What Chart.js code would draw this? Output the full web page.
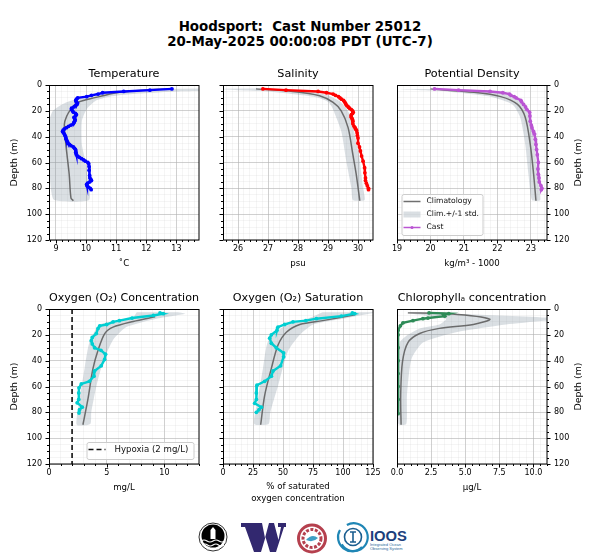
<!DOCTYPE html>
<html lang="en">
<head>
  <meta charset="UTF-8">
  <title>Hoodsport Cast</title>
  <script src="https://cdn.jsdelivr.net/npm/chart.js"></script>
  <style>
    html, body { margin: 0; padding: 0; background: #fff; width: 600px; height: 560px; overflow: hidden; }
    body { position: relative; font-family: "DejaVu Sans", sans-serif; color: #000; }
    canvas { position: absolute; }
    #mainTitle { position: absolute; left: 0; top: 19px; width: 600px; text-align: center; font-weight: bold; font-size: 13.4px; line-height: 15px; white-space: pre; }
    #logos { position: absolute; left: 190px; top: 515px; }
  </style>
</head>
<body>

<div id="mainTitle">Hoodsport:  Cast Number 25012
20-May-2025 00:00:08 PDT (UTC-7)</div>

<svg id="logos" width="225" height="45" viewBox="190 515 225 45">
  <circle cx="213" cy="537" r="14" fill="#fff" stroke="#333" stroke-width="1"/>
  <circle cx="213" cy="536" r="11.5" fill="#000"/>
  <path d="M210.5 539 v-9 l2.5 -3 l2.5 3 v9 z" fill="#fff"/>
  <path d="M201 541 q3 -2 6 0 t6 0 t6 0 t6 0 M202 545 q3 -2 5.5 0 t5.5 0 t5.5 0 t5.5 0" stroke="#fff" stroke-width="1.1" fill="none"/>
  <path d="M241 523 H262 L265 538 L269 523 H274 L278.5 540 L281 527 H278 V523 H286 V527 H284 L276 552 H270 L265.5 537 L261 552 H254 L245 527 H241 Z" fill="#32286f"/>
  <circle cx="312" cy="538.5" r="13.5" fill="#fff" stroke="#b5404e" stroke-width="3"/>
  <circle cx="312" cy="538.5" r="9" fill="none" stroke="#b5404e" stroke-width="3" stroke-dasharray="3 1.5"/>
  <path d="M306 540 q6 -7 12 -2 q-5 5 -12 2 z" fill="#3f9fc4"/>
  <path d="M344 527 a14 14 0 1 1 0 20" fill="none" stroke="#1f86b5" stroke-width="2.2" transform="rotate(15 353 537)"/>
  <path d="M362 547 a14 14 0 0 1 -22 -17" fill="none" stroke="#1f86b5" stroke-width="2.2"/>
  <circle cx="353" cy="537" r="8.5" fill="none" stroke="#1b5e8f" stroke-width="1.6"/>
  <path d="M353 532 v10 M350 532 h6 M350 542 h6" stroke="#1b5e8f" stroke-width="1.6" fill="none"/>
  <text x="370" y="541" font-family="Liberation Sans" font-weight="bold" font-size="14.5" textLength="37" lengthAdjust="spacingAndGlyphs" fill="#1c3f7c">IOOS</text>
  <text x="370" y="545.5" font-family="Liberation Sans" font-size="4" fill="#2b6a9a">Integrated Ocean</text>
  <text x="370" y="550" font-family="Liberation Sans" font-size="4" fill="#2b6a9a">Observing System</text>
</svg>

<script>
  const depthTicks = [0, 20, 40, 60, 80, 100, 120];

  // temperature
  const tempCastDepth = [3,4,5,6,7,8,9,10,11,12,13,14,15,16,17,18,19,20,21,22,23,24,25,26,27,28,29,30,31,32,33,34,35,36,37,38,39,40,41,42,43,44,45,46,47,48,49,50,51,52,53,54,55,56,57,58,59,60,61,63,66,70,72,73,74,75,76,77,78,79,80,81];
  const tempCast = [12.85,12.12,11.25,10.55,10.4,10.18,10.02,9.72,9.68,9.66,9.67,9.72,9.7,9.65,9.6,9.52,9.52,9.55,9.58,9.65,9.68,9.65,9.6,9.62,9.64,9.62,9.6,9.58,9.5,9.42,9.35,9.28,9.24,9.22,9.25,9.28,9.3,9.32,9.33,9.34,9.36,9.38,9.4,9.45,9.5,9.58,9.62,9.65,9.66,9.66,9.67,9.68,9.72,9.78,9.85,9.92,9.98,10.06,10.09,10.1,10.1,10.12,10.13,10.16,10.18,10.12,10.05,10.02,10.03,10.08,10.14,10.17];
  const tempClimDepth = [3,3.6,5.7,9,9.6,13.5,18.7,24,30.4,46,69,87.5,89.6];
  const tempClim = [12.9,12.1,11.1,10.44,10.33,9.72,9.5,9.36,9.28,9.33,9.44,9.5,9.58];
  const tempLowDepth = [3,4,5,7,9.6,13.5,20,28,59,80,89];
  const tempLow = [12.4,11.3,10.8,10.3,9.9,9.33,8.9,8.78,8.78,8.83,8.94];
  const tempHighDepth = [2.5,4,5,7,9,12,18.7,28,46,59,72,89];
  const tempHigh = [15,15,13,11.55,10.77,10.33,10.02,9.86,9.86,9.98,10.05,10.1];
  const tempTicks = [9, 10, 11, 12, 13];

  // salinity
  const salCastDepth = [3,4,5,6,7,8,9,10,11,12,13,14,15,16,17,18,19,20,21,22,23,24,25,26,27,28,30,32,33,34,35,37,39,41,45,48,51,55,59,64,68,72,74,76,78,80,81];
  const salCast = [26.83,27.6,28.67,28.95,29.17,29.25,29.35,29.4,29.45,29.52,29.55,29.58,29.6,29.63,29.68,29.72,29.78,29.82,29.84,29.82,29.78,29.77,29.78,29.8,29.82,29.83,29.83,29.87,29.9,29.92,29.95,29.97,29.98,30,30,30.05,30.08,30.12,30.17,30.22,30.23,30.25,30.25,30.28,30.31,30.35,30.35];
  const salClimDepth = [3,5,8.3,13.5,20,33,54,69,89.6];
  const salClim = [26.6,27.83,28.72,29.17,29.44,29.67,29.83,29.94,30.06];
  const salLowDepth = [3,4,5,8,10,13,17.4,35.6,59,80,89];
  const salLow = [25,26,27,28.2,28.7,29,29.14,29.44,29.61,29.78,29.83];
  const salHighDepth = [2.5,4,5,8,13.5,22.6,38,59,80,89];
  const salHigh = [27,27.5,28.4,29,29.44,29.72,29.89,30.06,30.17,30.22];
  const salTicks = [26, 27, 28, 29, 30];

  // potential density
  const rhoCastDepth = [3,4,5,6,7,8,9,10,12,13,15,17,19,21,24,28,31,33,36,38,42,46,50,54,60,65,69,72,75,78,80,81];
  const rhoCast = [20.12,20.84,21.78,22.16,22.36,22.4,22.5,22.56,22.7,22.72,22.78,22.84,22.88,22.96,22.97,22.98,23.01,23.03,23.08,23.11,23.13,23.15,23.17,23.19,23.22,23.21,23.22,23.24,23.25,23.3,23.33,23.31];
  const rhoClimDepth = [3,5.7,9,15,25,46,69,89.6];
  const rhoClim = [20,21.3,22.1,22.6,22.83,22.98,23.08,23.15];
  const rhoLowDepth = [3,4,5,9,15,25,46,70,89];
  const rhoLow = [19,19.8,20.5,21.8,22.45,22.68,22.83,22.93,23.03];
  const rhoHighDepth = [3,5,9,15,25,46,70,89];
  const rhoHigh = [20.8,22,22.45,22.75,22.96,23.1,23.2,23.28];
  const rhoTicks = [19, 20, 21, 22, 23];

  // oxygen concentration
  const oxyCastDepth = [3,3.6,5,7,9,10,12,13,15,19,22,24.5,27,30,32,35,39,44,48,52,56,58,61,65,70,72.6,76,78,80.5];
  const oxyCast = [9.62,9.9,9.05,7.2,6.1,5.55,5,4.4,4.25,4.1,3.75,3.66,3.75,3.95,4.5,4.9,4.82,4.53,3.95,3.9,3.5,2.8,2.6,2.58,2.58,2.44,2.88,2.65,2.6];
  const oxyClimDepth = [6,9.6,14,19,32,46.6,70,89.6];
  const oxyClim = [9.2,7.3,5.55,4.83,4.25,3.8,3.37,2.94];
  const oxyLowDepth = [2.5,7.5,12,26,46,70,89.6];
  const oxyLow = [7.6,7.2,4.4,3.5,3.08,2.65,2.41];
  const oxyHighDepth = [2.5,3.6,7.5,14,24,41,60,80,89];
  const oxyHigh = [11.2,11.8,9.3,6.7,5.55,4.68,4.1,3.66,3.58];
  const oxyTicks = [0, 5, 10];
  const hypoxiaLevel = [2, 2];
  const hypoxiaDepth = [0, 120];

  // oxygen saturation
  const satCastDepth = [3,3.6,5.5,7.5,9,10,12,14,16.5,20,22.6,26.5,30,34,37,44,48,52,56,59,65,70,73,76,78,80];
  const satCast = [107.8,109.7,98.6,77.8,69,58.3,51.4,45.8,45,40.3,38.9,40.3,44.4,50.5,50.5,48,41.7,40.3,34.7,28.3,27.8,27.8,26.4,32,30,27.8];
  const satClimDepth = [4.5,9,12,18,28,46,67,89.6];
  const satClim = [110,83,64,52.8,45.8,40.3,34.7,31.4];
  const satLowDepth = [2.5,7,14,25,46,70,89];
  const satLow = [83,72,50,37.5,33.3,29,26];
  const satHighDepth = [2.5,3,7.5,12,20,33,59,80,89];
  const satHigh = [130,125,100,75,64,54,46,39.4,38];
  const satTicks = [0, 25, 50, 75, 100, 125];

  // chlorophyll
  const chlCastDepth = [3,3.6,4.5,5.5,7,7.5,9,10.7,13,16.5,20,30,40,50,60,70,81];
  const chlCast = [2.35,3.8,3.4,3.5,2.27,1.9,1.17,0.44,0.25,0.08,0.08,0.08,0.08,0.08,0.08,0.08,0.08];
  const chlClimDepth = [3,3.6,7.8,12,15,19,26,41,67,89.6];
  const chlClim = [0.8,3.85,6.8,5.6,3.1,1.66,0.8,0.4,0.27,0.3];
  const chlLowDepth = [3,7.5,12,15,20,26,46,89];
  const chlLow = [0.7,3.6,3.1,1.66,0.8,0.2,0.1,0.1];
  const chlHighDepth = [2.5,3.6,7.5,12,18,26,39,67,89];
  const chlHigh = [1,4.4,12,8,4.35,1.9,1.05,0.73,0.68];
  const chlTicks = [0, 2.5, 5, 7.5, 10];

  const FONT = '"DejaVu Sans"';
  const GREY = 'rgba(95,95,95,0.9)';
  const BAND = 'rgba(119,136,153,0.27)';
  const MAJOR_GRID = 'rgba(176,176,176,0.6)';
  const MINOR_GRID = 'rgba(200,200,200,0.18)';
  const pts = (xs, ys) => xs.map((x, i) => ({ x: x, y: ys[i] }));

  function bandShape(low, lowDepth, high, highDepth) {
    return pts(low, lowDepth).concat(pts(high, highDepth).reverse());
  }

  // ticks, frame, depth label and legend box, matplotlib style
  const framePlugin = {
    id: 'frame',
    afterDraw(chart) {
      const o = chart.options.plugins.frame;
      const a = chart.chartArea, c = chart.ctx;
      const xs = chart.scales.x, ys = chart.scales.y;
      c.save();
      c.strokeStyle = '#000';
      c.lineWidth = 1;
      c.beginPath();
      xs.ticks.forEach(t => {
        const px = Math.round(xs.getPixelForValue(t.value)) + 0.5;
        c.moveTo(px, a.bottom);
        c.lineTo(px, a.bottom + (t.major ? 3.5 : 2));
      });
      ys.ticks.forEach(t => {
        const py = Math.round(ys.getPixelForValue(t.value)) + 0.5;
        const len = t.major ? 3.5 : 2;
        if (o.side === 'right') { c.moveTo(a.right, py); c.lineTo(a.right + len, py); }
        else { c.moveTo(a.left, py); c.lineTo(a.left - len, py); }
      });
      c.stroke();
      c.strokeRect(a.left + 0.5, a.top + 0.5, a.right - a.left - 0.5, a.bottom - a.top - 0.5);
      if (o.depthLabel) {
        c.translate(o.side === 'right' ? a.right + 32 : a.left - 34, (a.top + a.bottom) / 2);
        c.rotate(-Math.PI / 2);
        c.fillStyle = '#000';
        c.font = '9.4px ' + FONT;
        c.textAlign = 'center';
        c.textBaseline = 'middle';
        c.fillText('Depth (m)', 0, 0);
        c.setTransform(1, 0, 0, 1, 0, 0);
      }
      if (o.legend) {
        const l = o.legend;
        c.fillStyle = 'rgba(255,255,255,0.8)';
        c.strokeStyle = '#ccc';
        c.beginPath();
        c.roundRect(a.left + l.x + 0.5, a.top + l.y + 0.5, l.w, l.h, 2);
        c.fill();
        c.stroke();
        c.font = l.font + 'px ' + FONT;
        c.textBaseline = 'middle';
        c.textAlign = 'left';
        l.rows.forEach((r, i) => {
          const y = a.top + l.y + 7.5 + i * 13;
          const x0 = a.left + l.x + 2;
          c.setLineDash(r.dash || []);
          if (r.band) {
            c.fillStyle = BAND;
            c.fillRect(x0, y - 3, 17, 6);
          } else {
            c.strokeStyle = r.color;
            c.lineWidth = r.width;
            c.beginPath();
            c.moveTo(x0, y);
            c.lineTo(x0 + 17, y);
            c.stroke();
            if (r.marker) {
              c.fillStyle = r.color;
              c.beginPath();
              c.arc(x0 + 8.5, y, 1.5, 0, 7);
              c.fill();
            }
          }
          c.setLineDash([]);
          c.fillStyle = '#111';
          c.fillText(r.label, x0 + l.gap, y);
        });
      }
      c.restore();
    }
  };

  function axisTicks(major, step, min, max) {
    const out = [];
    const first = Math.ceil(min / step - 1e-9);
    for (let i = first; i * step <= max + 1e-9; i++) {
      const v = +(i * step).toFixed(3);
      out.push({ value: v, major: major.includes(v) });
    }
    return out;
  }

  const TOP = 18, PLOT_W = 150, PLOT_H = 153;
  const gridColor = c => c.tick && c.tick.major ? MAJOR_GRID : MINOR_GRID;

  function panel(p) {
    const L = p.side === 'left' ? 49 : 14;
    const R = p.side === 'right' ? 53 : 14;
    const B = p.xTitle.length > 1 ? 44 : 33;
    const cv = document.createElement('canvas');
    cv.width = L + PLOT_W + R;
    cv.height = TOP + PLOT_H + (p.xTitle.length > 1 ? 46 : 35);
    cv.style.left = (p.x - L) + 'px';
    cv.style.top = (p.y - TOP) + 'px';
    document.body.appendChild(cv);

    const datasets = [
      { data: bandShape(p.low, p.lowDepth, p.high, p.highDepth), showLine: true, fill: 'shape', backgroundColor: BAND, borderWidth: 0, pointRadius: 0, tension: 0.2, order: 3 },
      { data: pts(p.clim, p.climDepth), showLine: true, borderColor: GREY, borderWidth: 1.5, pointRadius: 0, tension: 0.3, order: 2 },
      { data: pts(p.cast, p.castDepth), showLine: true, borderColor: p.color, backgroundColor: p.color, borderWidth: 2.4, pointRadius: 1.9, pointBorderWidth: 0, tension: 0, order: 1 }
    ];
    if (p.extra) datasets.push(p.extra);

    new Chart(cv, {
      type: 'scatter',
      data: { datasets: datasets },
      options: {
        responsive: false,
        animation: false,
        layout: { padding: { left: p.side === 'right' ? L : 0, right: p.side === 'right' ? 0 : R } },
        plugins: {
          legend: { display: false },
          tooltip: { enabled: false },
          title: { display: true, text: p.title, fullSize: false, color: '#000', font: { family: FONT, size: 11.2, weight: 'normal', lineHeight: 1 }, padding: { top: 1.5, bottom: 5.3 } },
          frame: { side: p.side, depthLabel: p.side !== 'inner', legend: p.legend }
        },
        scales: {
          x: {
            type: 'linear', min: p.xMin, max: p.xMax,
            afterBuildTicks: s => { s.ticks = axisTicks(p.xTicks, p.xMinor, p.xMin, p.xMax); },
            afterFit: s => { s.height = B; },
            ticks: { autoSkip: false, maxRotation: 0, color: '#000', font: { family: FONT, size: 8 }, padding: 4.5,
              callback: (v, i, all) => all[i].major ? (p.xFmt ? v.toFixed(p.xFmt) : String(v)) : '' },
            grid: { drawTicks: false, color: gridColor, lineWidth: 1 },
            border: { display: false },
            title: { display: true, text: p.xTitle, color: '#000', font: { family: FONT, size: 8.6, lineHeight: 1.3 }, padding: { top: 0, bottom: 4 } }
          },
          y: {
            type: 'linear', min: 0, max: 120, reverse: true,
            position: p.side === 'right' ? 'right' : 'left',
            afterBuildTicks: s => { s.ticks = axisTicks(depthTicks, 5, 0, 120); },
            afterFit: s => { s.width = p.side === 'right' ? R : L; },
            ticks: { display: p.side !== 'inner', autoSkip: false, color: '#000', font: { family: FONT, size: 8 }, padding: 7,
              callback: (v, i, all) => all[i].major ? String(v) : '' },
            grid: { drawTicks: false, color: gridColor, lineWidth: 1 },
            border: { display: false }
          }
        }
      },
      plugins: [framePlugin]
    });
  }

  panel({ title: 'Temperature', x: 49, y: 85, side: 'left', xTitle: ['˚C'], xMin: 8.77, xMax: 13.75, xTicks: tempTicks, xMinor: 0.2, color: '#0000ff',
    cast: tempCast, castDepth: tempCastDepth, clim: tempClim, climDepth: tempClimDepth, low: tempLow, lowDepth: tempLowDepth, high: tempHigh, highDepth: tempHighDepth });

  panel({ title: 'Salinity', x: 223, y: 85, side: 'inner', xTitle: ['psu'], xMin: 25.5, xMax: 30.5, xTicks: salTicks, xMinor: 0.2, color: '#ff0000',
    cast: salCast, castDepth: salCastDepth, clim: salClim, climDepth: salClimDepth, low: salLow, lowDepth: salLowDepth, high: salHigh, highDepth: salHighDepth });

  panel({ title: 'Potential Density', x: 397, y: 85, side: 'right', xTitle: ['kg/m³ - 1000'], xMin: 19, xMax: 23.48, xTicks: rhoTicks, xMinor: 0.2, color: '#ba55d3',
    cast: rhoCast, castDepth: rhoCastDepth, clim: rhoClim, climDepth: rhoClimDepth, low: rhoLow, lowDepth: rhoLowDepth, high: rhoHigh, highDepth: rhoHighDepth,
    legend: { x: 4.5, y: 109, w: 81, h: 41, font: 7.6, gap: 23, rows: [
      { label: 'Climatology', color: GREY, width: 1.5 },
      { label: 'Clim.+/-1 std.', band: true },
      { label: 'Cast', color: '#ba55d3', width: 1.5, marker: true }
    ] } });

  panel({ title: 'Oxygen (O₂) Concentration', x: 49, y: 309, side: 'left', xTitle: ['mg/L'], xMin: 0, xMax: 13, xTicks: oxyTicks, xMinor: 1, color: '#00ced1',
    cast: oxyCast, castDepth: oxyCastDepth, clim: oxyClim, climDepth: oxyClimDepth, low: oxyLow, lowDepth: oxyLowDepth, high: oxyHigh, highDepth: oxyHighDepth,
    extra: { data: pts(hypoxiaLevel, hypoxiaDepth), showLine: true, borderColor: '#111', borderWidth: 1.6, borderDash: [5, 3], pointRadius: 0, order: 0 },
    legend: { x: 37.5, y: 133, w: 107, h: 17, font: 8.6, gap: 26, rows: [
      { label: 'Hypoxia (2 mg/L)', color: '#111', width: 1.6, dash: [5, 3] }
    ] } });

  panel({ title: 'Oxygen (O₂) Saturation', x: 223, y: 309, side: 'inner', xTitle: ['% of saturated', 'oxygen concentration'], xMin: 0, xMax: 125, xTicks: satTicks, xMinor: 5, color: '#00ced1',
    cast: satCast, castDepth: satCastDepth, clim: satClim, climDepth: satClimDepth, low: satLow, lowDepth: satLowDepth, high: satHigh, highDepth: satHighDepth });

  panel({ title: 'Chlorophyllₐ concentration', x: 397, y: 309, side: 'right', xTitle: ['µg/L'], xMin: 0, xMax: 11, xTicks: chlTicks, xMinor: 0.5, xFmt: 1, color: '#2e8b57',
    cast: chlCast, castDepth: chlCastDepth, clim: chlClim, climDepth: chlClimDepth, low: chlLow, lowDepth: chlLowDepth, high: chlHigh, highDepth: chlHighDepth });
</script>

</body>
</html>
